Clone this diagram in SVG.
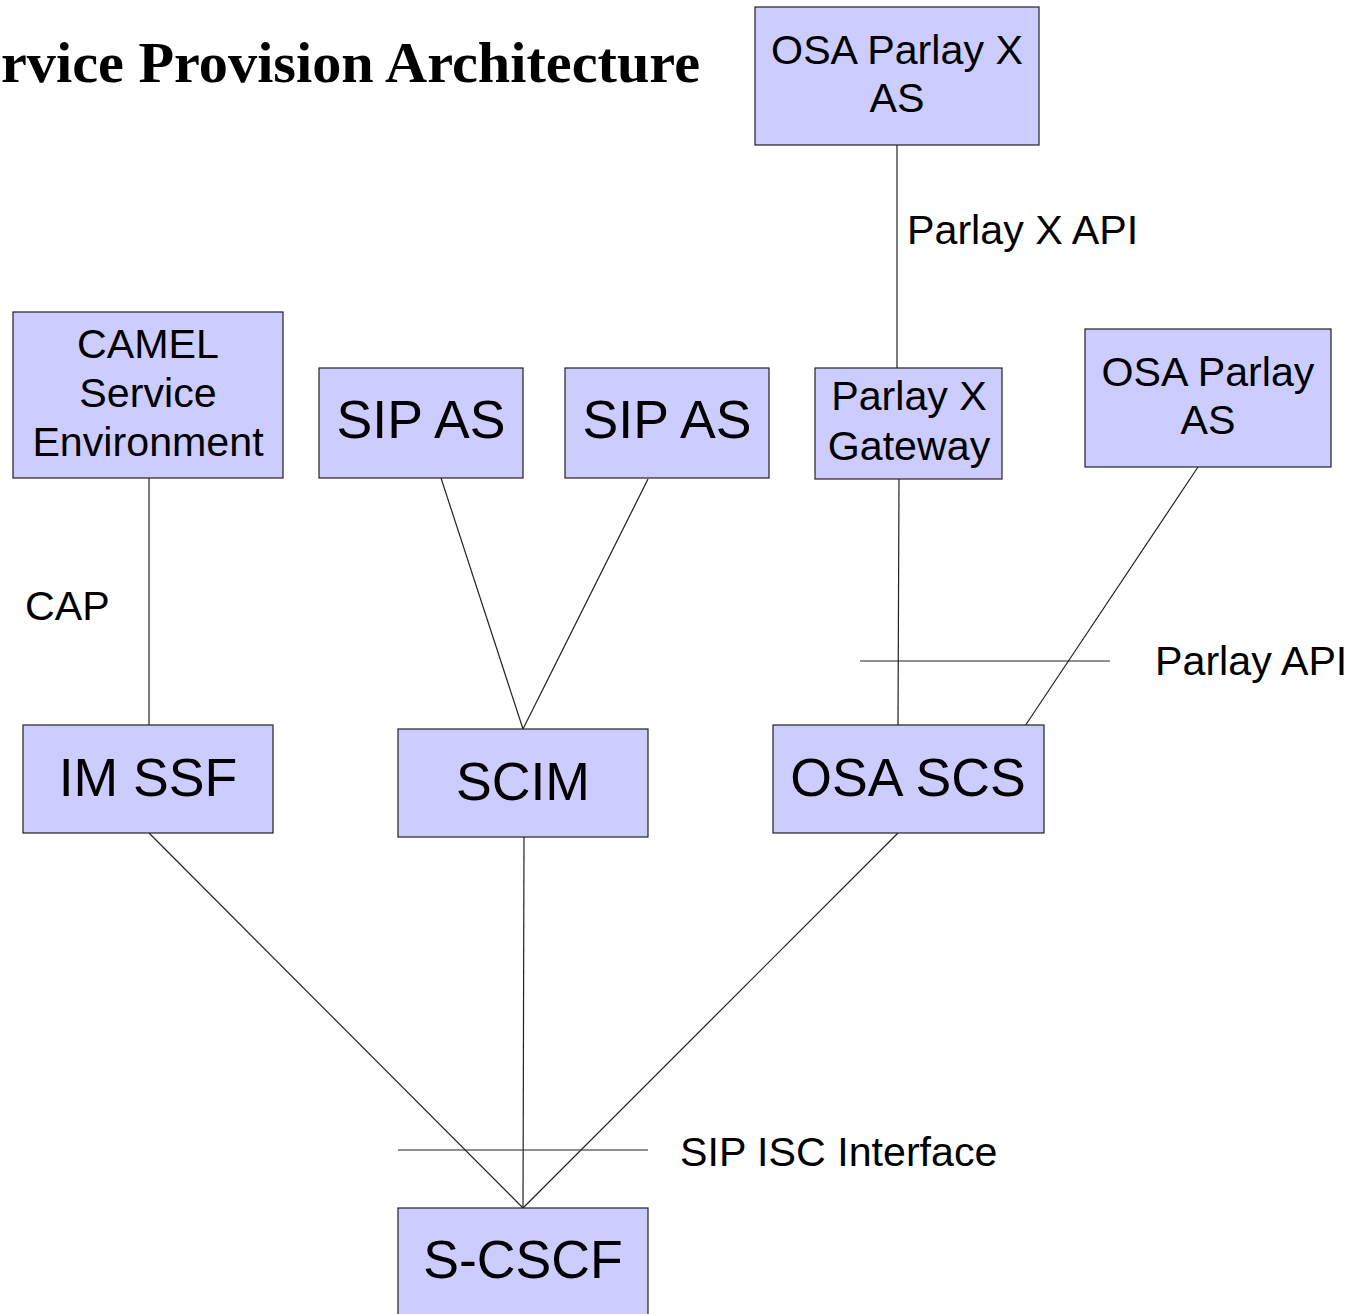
<svg xmlns="http://www.w3.org/2000/svg" width="1351" height="1314" viewBox="0 0 1351 1314">
<style>
.box{fill:#ccccff;stroke:#222;stroke-width:1.2}
.t{font-family:"Liberation Sans",Arial,sans-serif;fill:#000;text-anchor:middle}
.m{font-size:41.2px}
.b{font-size:53.6px}
.l{font-family:"Liberation Sans",Arial,sans-serif;font-size:41.2px;fill:#000}
.c line{stroke:#222;stroke-width:1.2}
</style>
<rect width="1351" height="1314" fill="#fff"/>
<text x="1" y="82" textLength="699" lengthAdjust="spacingAndGlyphs" font-family="'Liberation Serif','Times New Roman',serif" font-weight="bold" font-size="56px">rvice Provision Architecture</text>
<g class="c" id="connectors">
<line x1="897" y1="145" x2="897" y2="368"/>
<line x1="149" y1="478" x2="149" y2="725"/>
<line x1="441" y1="478" x2="523" y2="729"/>
<line x1="648" y1="479" x2="523" y2="729"/>
<line x1="899" y1="479" x2="898" y2="725"/>
<line x1="1198" y1="467" x2="1023" y2="729"/>
<line x1="860" y1="661" x2="1110" y2="661"/>
<line x1="149" y1="833" x2="523" y2="1208"/>
<line x1="524" y1="837" x2="523" y2="1208"/>
<line x1="898" y1="833" x2="523" y2="1208"/>
<line x1="398" y1="1150" x2="648" y2="1150"/>
</g>
<g id="osa-parlay-x-as"><rect class="box" x="755" y="7" width="284" height="138"/><text class="t m" x="897" y="64">OSA Parlay X</text><text class="t m" x="897" y="112">AS</text></g>
<g id="camel"><rect class="box" x="13" y="312" width="270" height="166"/><text class="t m" x="148" y="358">CAMEL</text><text class="t m" x="148" y="407">Service</text><text class="t m" x="148" y="456">Environment</text></g>
<g id="sip-as-1"><rect class="box" x="319" y="368" width="204" height="110"/><text class="t b" x="421" y="438">SIP AS</text></g>
<g id="sip-as-2"><rect class="box" x="565" y="368" width="204" height="110"/><text class="t b" x="667" y="438">SIP AS</text></g>
<g id="parlay-x-gateway"><rect class="box" x="815" y="368" width="187" height="111"/><text class="t m" x="909" y="410">Parlay X</text><text class="t m" x="909" y="460">Gateway</text></g>
<g id="osa-parlay-as"><rect class="box" x="1085" y="329" width="246" height="138"/><text class="t m" x="1208" y="386">OSA Parlay</text><text class="t m" x="1208" y="434">AS</text></g>
<g id="im-ssf"><rect class="box" x="23" y="725" width="250" height="108"/><text class="t b" x="148" y="796">IM SSF</text></g>
<g id="scim"><rect class="box" x="398" y="729" width="250" height="108"/><text class="t b" x="523" y="800">SCIM</text></g>
<g id="osa-scs"><rect class="box" x="773" y="725" width="271" height="108"/><text class="t b" x="908" y="796">OSA SCS</text></g>
<g id="s-cscf"><rect class="box" x="398" y="1208" width="250" height="110"/><text class="t b" x="523" y="1278">S-CSCF</text></g>
<g id="labels">
<text class="l" x="907" y="244">Parlay X API</text>
<text class="l" x="25" y="620">CAP</text>
<text class="l" x="1155" y="675">Parlay API</text>
<text class="l" x="680" y="1166">SIP ISC Interface</text>
</g>
</svg>
